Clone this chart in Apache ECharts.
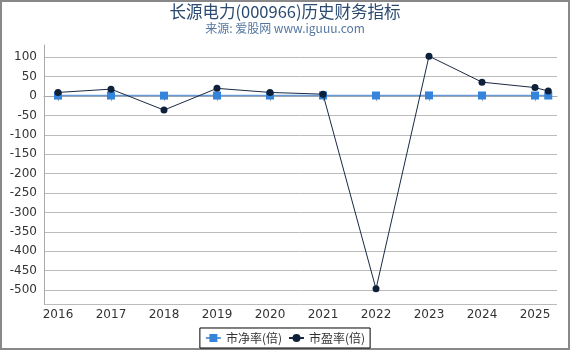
<!DOCTYPE html>
<html><head><meta charset="utf-8">
<script src="https://cdn.jsdelivr.net/npm/echarts@6/dist/echarts.min.js"></script>
<style>html,body{margin:0;padding:0;background:#fff}#c{width:570px;height:350px}</style>
</head><body><div id="c"></div>
<script>
const titleText = '长源电力(000966)历史财务指标';
const subText = '来源: 爱股网 www.iguuu.com';
const xPositions = [2016, 2017, 2018, 2019, 2020, 2021, 2022, 2023, 2024, 2025, 2025.25];
const pbValues = [1.3, 1.5, 1.3, 1.5, 1.5, 1.7, 1.6, 1.8, 1.6, 1.5, 1.5];
const peValues = [9.5, 18, -36, 20, 9.5, 5, -497, 103, 36, 22, 13];
const pbName = '市净率(倍)';
const peName = '市盈率(倍)';

const chart = echarts.init(document.getElementById('c'));
const pair = (xs, ys) => xs.map((x, i) => [x, ys[i]]);
chart.setOption({
  animation: false,
  backgroundColor: '#fff',
  title: {
    text: titleText, subtext: subText, left: 'center', top: -2, itemGap: 3,
    textStyle: {color: '#2a4a70', fontSize: 16.5, fontWeight: 'normal', fontFamily: 'Noto Sans CJK SC'},
    subtextStyle: {color: '#5577a0', fontSize: 12, fontFamily: 'Noto Sans CJK SC'}
  },
  graphic: [{type: 'rect', shape: {x: 1, y: 1, width: 568, height: 348}, style: {fill: 'none', stroke: '#888', lineWidth: 2}, silent: true}],
  grid: {left: 44, right: 13, top: 45, bottom: 46, containLabel: false},
  legend: {
    bottom: 2, left: 'center', borderColor: '#000', borderWidth: 1, borderRadius: 0,
    padding: [4, 5], itemGap: 6, itemWidth: 15, itemHeight: 10,
    textStyle: {color: '#333', fontSize: 12, fontFamily: 'Noto Sans CJK SC'},
    data: [pbName, peName]
  },
  xAxis: {
    type: 'value', min: 2015.736, max: 2025.415, splitNumber: 10,
    axisLine: {show: true, lineStyle: {color: '#aaa'}},
    axisTick: {show: true, length: 5, lineStyle: {color: '#aaa'}},
    splitLine: {show: false},
    axisLabel: {color: '#333', fontSize: 12, margin: 5, fontFamily: 'DejaVu Sans',
      showMinLabel: false, showMaxLabel: false,
      formatter: v => (Math.abs(v - Math.round(v)) < 1e-6 ? String(Math.round(v)) : '')}
  },
  yAxis: {
    type: 'value', min: -536, max: 131.8, splitNumber: 13,
    axisLine: {show: true, lineStyle: {color: '#aaa'}},
    axisTick: {show: false},
    splitLine: {show: true, showMaxLine: false, lineStyle: {color: '#bbb', width: 1}},
    axisLabel: {color: '#333', fontSize: 12, margin: 7, fontFamily: 'DejaVu Sans',
      showMinLabel: false, showMaxLabel: false,
      formatter: v => (Math.abs(v % 50) < 1e-6 ? String(v) : '')}
  },
  series: [
    {name: pbName, type: 'line', data: pair(xPositions, pbValues), symbol: 'rect', symbolSize: 8,
     itemStyle: {color: '#3584dc'}, lineStyle: {color: '#6a9ad6', width: 1.5}, z: 2},
    {name: peName, type: 'line', data: pair(xPositions, peValues), symbol: 'circle', symbolSize: 7,
     itemStyle: {color: '#0f203a'}, lineStyle: {color: '#1a2a44', width: 1}, z: 3}
  ]
});
</script></body></html>
